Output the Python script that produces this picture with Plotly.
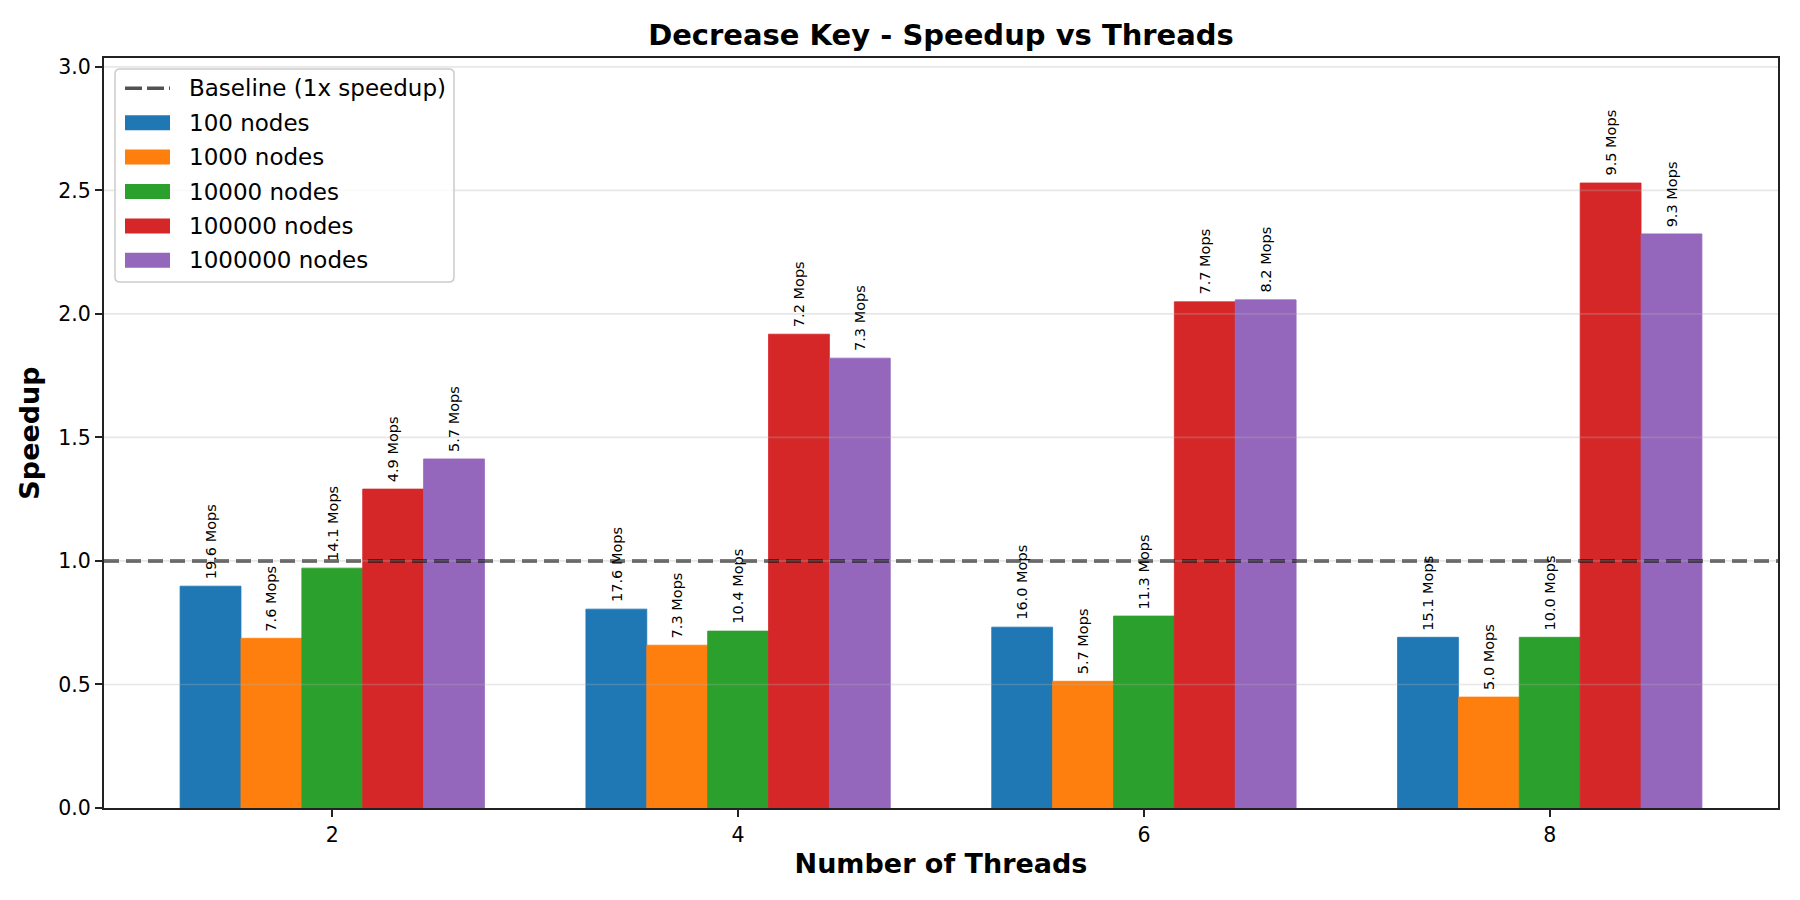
import plotly.graph_objects as go

threads = [2, 4, 6, 8]
node_labels = ["100 nodes", "1000 nodes", "10000 nodes", "100000 nodes", "1000000 nodes"]
baseline_label = "Baseline (1x speedup)"
colors = ["#1f77b4", "#ff7f0e", "#2ca02c", "#d62728", "#9467bd"]

speedup_100 = [0.898, 0.805, 0.732, 0.691]
speedup_1000 = [0.687, 0.659, 0.513, 0.449]
speedup_10000 = [0.971, 0.716, 0.777, 0.691]
speedup_100000 = [1.291, 1.918, 2.049, 2.530]
speedup_1000000 = [1.413, 1.821, 2.057, 2.324]

mops_100 = [19.6, 17.6, 16.0, 15.1]
mops_1000 = [7.6, 7.3, 5.7, 5.0]
mops_10000 = [14.1, 10.4, 11.3, 10.0]
mops_100000 = [4.9, 7.2, 7.7, 9.5]
mops_1000000 = [5.7, 7.3, 8.2, 9.3]

speedups = [speedup_100, speedup_1000, speedup_10000, speedup_100000, speedup_1000000]
mops = [mops_100, mops_1000, mops_10000, mops_100000, mops_1000000]

baseline = 1.0
grid_vals = [0.5, 1.0, 1.5, 2.0, 2.5, 3.0]

FONT = "DejaVu Sans"
W, H = 1800, 900
ML, MR, MT, MB = 104, 22, 58, 92
PW, PH = W - ML - MR, H - MT - MB


def px_x(p):
    return (p - ML) / PW


def px_y(p):
    return (H - MB - p) / PH


n = len(node_labels)
bar_w = 0.15
idx = list(range(len(threads)))
x_lo = -n * bar_w / 2 - 0.1875
x_hi = len(threads) - 1 + n * bar_w / 2 + 0.1875
y_hi = max(max(s) for s in speedups) * 1.2

BASE_LINE = dict(color="rgba(0,0,0,0.68)", width=3.5)

fig = go.Figure()

fig.add_trace(go.Scatter(
    x=[x_lo, x_hi], y=[baseline, baseline], mode="lines",
    line=dict(**BASE_LINE, dash="15px,7px"),
    name=baseline_label, hoverinfo="skip", showlegend=False,
))

for i in range(n):
    fig.add_trace(go.Bar(
        x=idx, y=speedups[i], name=node_labels[i], showlegend=False,
        marker=dict(color=colors[i], line=dict(width=0.8, color=colors[i])),
    ))

annotations = []
for i in range(n):
    off = -n * bar_w / 2 + bar_w / 2 + i * bar_w
    for j in idx:
        annotations.append(dict(
            x=j + off, y=speedups[i][j], xref="x", yref="y",
            text=f"{mops[i][j]:.1f} Mops", showarrow=False,
            textangle=-90, xanchor="center", yanchor="bottom", yshift=5,
            font=dict(family=FONT, size=14.5, color="#000000"),
        ))

shapes = []
for g in grid_vals:
    shapes.append(dict(
        type="line", xref="paper", yref="y", x0=0, x1=1, y0=g, y1=g,
        line=dict(color="rgba(176,176,176,0.3)", width=1.7), layer="above",
    ))

# legend (drawn as box + handles + text)
bx0, bx1, by0, by1, r = 115, 454, 69, 282, 5
rx, ry = r / PW, r / PH
X0, X1, Y0, Y1 = px_x(bx0), px_x(bx1), px_y(by0), px_y(by1)
path = (f"M{X0 + rx},{Y0} L{X1 - rx},{Y0} Q{X1},{Y0} {X1},{Y0 - ry} "
        f"L{X1},{Y1 + ry} Q{X1},{Y1} {X1 - rx},{Y1} L{X0 + rx},{Y1} "
        f"Q{X0},{Y1} {X0},{Y1 + ry} L{X0},{Y0 - ry} Q{X0},{Y0} {X0 + rx},{Y0} Z")
shapes.append(dict(type="path", path=path, xref="paper", yref="paper",
                   fillcolor="rgba(255,255,255,0.8)",
                   line=dict(color="#cccccc", width=1.5), layer="above"))

row0, row_step = 88.3, 34.4
hx0, hx1, tx = 125, 170, 187
entries = [(baseline_label, None)] + list(zip(node_labels, colors))
for k, (label, col) in enumerate(entries):
    cy = row0 + k * row_step
    if col is None:
        shapes.append(dict(type="line", xref="paper", yref="paper",
                           x0=px_x(hx0), x1=px_x(hx1), y0=px_y(cy), y1=px_y(cy),
                           line=dict(**BASE_LINE, dash="17px,5px"), layer="above"))
    else:
        shapes.append(dict(type="rect", xref="paper", yref="paper",
                           x0=px_x(hx0), x1=px_x(hx1),
                           y0=px_y(cy - 7.5), y1=px_y(cy + 7.5),
                           fillcolor=col, line=dict(width=0), layer="above"))
    annotations.append(dict(
        x=px_x(tx), y=px_y(cy), xref="paper", yref="paper", text=label,
        showarrow=False, xanchor="left", yanchor="middle",
        font=dict(family=FONT, size=23, color="#000000"),
    ))

fig.update_layout(
    width=W, height=H, autosize=False,
    paper_bgcolor="white", plot_bgcolor="white",
    margin=dict(l=ML, r=MR, t=MT, b=MB),
    barmode="group", bargap=1 - n * bar_w, bargroupgap=0,
    font=dict(family=FONT, color="#000000"),
    showlegend=False,
    title=dict(
        text="<b>Decrease Key - Speedup vs Threads</b>",
        font=dict(family=FONT, size=29, color="#000000"),
        x=0.5, xref="paper", xanchor="center",
        y=1 - 35 / H, yref="container", yanchor="middle",
    ),
    xaxis=dict(
        range=[x_lo, x_hi], tickmode="array", tickvals=idx,
        ticktext=[str(t) for t in threads],
        showgrid=False, zeroline=False,
        showline=True, linecolor="#222222", linewidth=2, mirror=True,
        ticks="outside", ticklen=7, tickwidth=1.7, tickcolor="#222222",
        tickfont=dict(family=FONT, size=20.5, color="#000000"),
        title=dict(text="<b>Number of Threads</b>",
                   font=dict(family=FONT, size=27, color="#000000"), standoff=9),
    ),
    yaxis=dict(
        range=[0, y_hi], dtick=0.5, tick0=0, tickformat=".1f",
        showgrid=False, zeroline=False,
        showline=True, linecolor="#222222", linewidth=2, mirror=True,
        ticks="outside", ticklen=7, tickwidth=1.7, tickcolor="#222222",
        tickfont=dict(family=FONT, size=20.5, color="#000000"),
        title=dict(text="<b>Speedup</b>",
                   font=dict(family=FONT, size=27, color="#000000"), standoff=11),
    ),
    annotations=annotations,
    shapes=shapes,
)

fig.write_html("out.html")
